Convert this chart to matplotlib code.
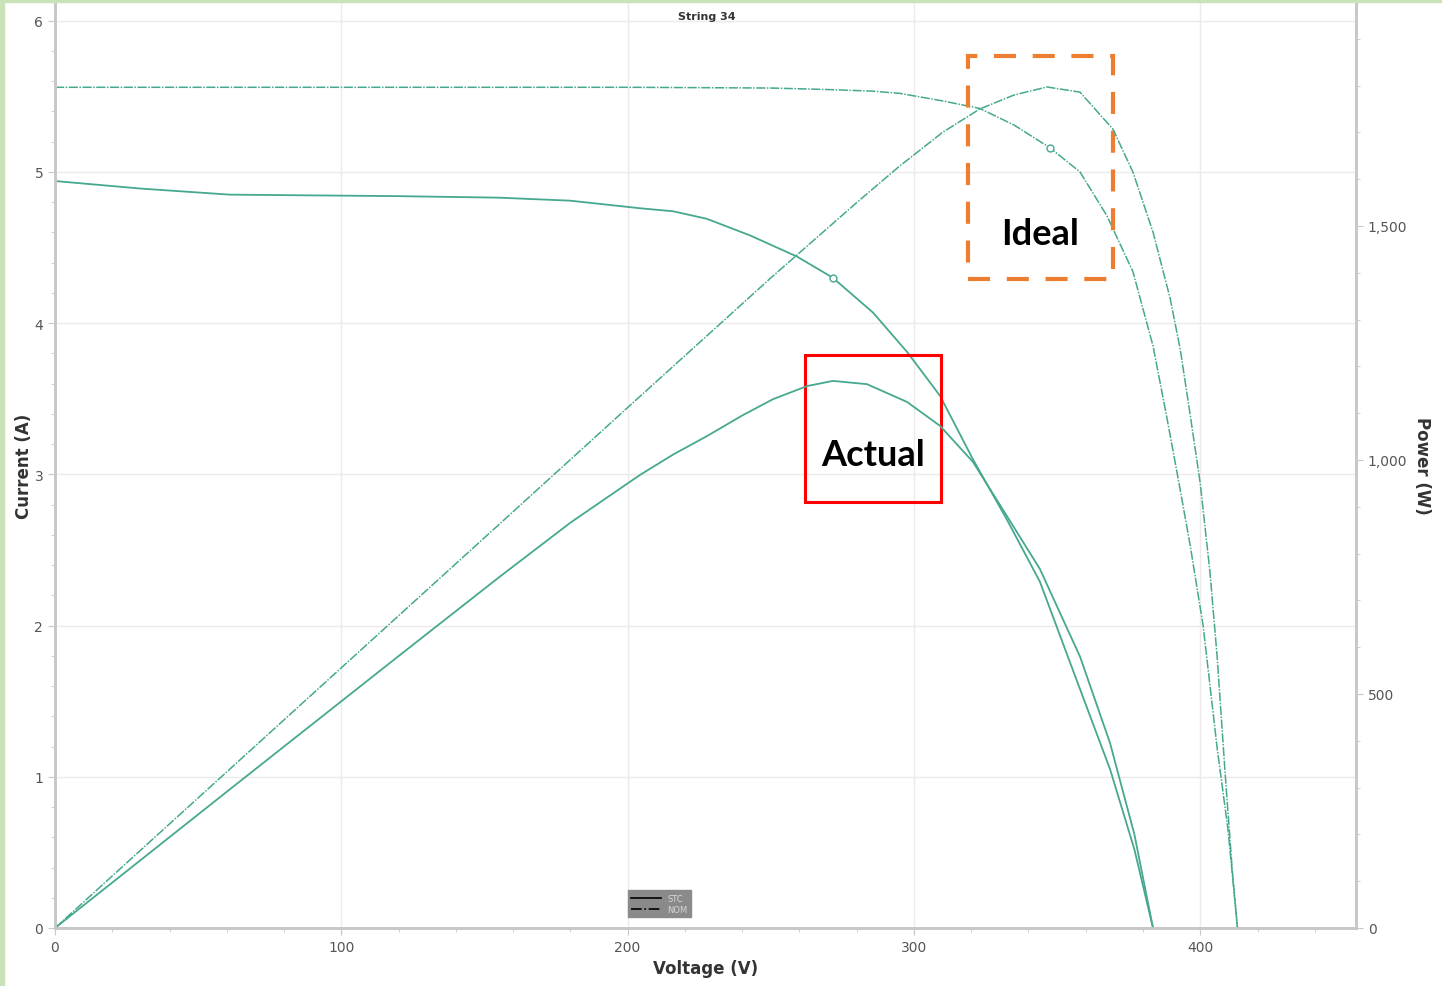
import matplotlib
matplotlib.use('Agg')
from matplotlib import pyplot as plt
from matplotlib.lines import Line2D
from matplotlib.patches import Rectangle
from matplotlib.ticker import MultipleLocator, FuncFormatter

# ideal (modelled) curve
ideal_v = [0, 100, 200, 250, 270, 285, 295, 310, 323, 335, 347.5, 358, 367.4, 376.5, 383.5,
           388.3, 392.5, 396.4, 401, 405.9, 409.7, 413]
ideal_i = [5.56, 5.56, 5.56, 5.555, 5.545, 5.535, 5.52, 5.47, 5.42, 5.31, 5.16, 5.00, 4.71, 4.34, 3.85,
           3.38, 2.95, 2.54, 2.00, 1.19, 0.65, 0.0]
ideal_pv = [0, 100, 200, 250, 280, 295, 310, 323, 335, 346.5, 358, 369.5, 376.5, 383.5, 389.5,
            393, 396.4, 400, 403.4, 405.9, 408.7, 411.1, 413]
ideal_p = [0, 556, 1112, 1389, 1550, 1628, 1700, 1750, 1780, 1797, 1786, 1707, 1615, 1487, 1345,
           1237, 1100, 950, 760, 580, 330, 130, 0]

# measured curve
actual_v = [0, 30, 61, 120, 155, 180, 204.3, 215.9, 227.7, 242.8, 259.2, 271.7, 285.7, 297.6,
            309.1, 320.6, 332.5, 344, 358, 368.5, 377, 383.5]
actual_i = [4.94, 4.89, 4.85, 4.84, 4.83, 4.81, 4.76, 4.74, 4.69, 4.58, 4.44, 4.30, 4.07, 3.81,
            3.52, 3.10, 2.70, 2.29, 1.58, 1.05, 0.52, 0.0]
actual_pv = [0, 61, 120, 155, 180, 204.3, 216, 227.7, 240, 250.8, 262.7, 271.7, 283.6, 297.6,
             309.1, 320.6, 332.5, 344, 358, 368.5, 377, 383.5]
actual_p = [0, 296, 581, 749, 866, 968, 1012, 1051, 1095, 1130, 1158, 1169, 1162, 1124,
            1073, 996, 880, 767, 580, 395, 200, 0]

mpp_ideal = (347.5, 5.16)
mpp_actual = (271.7, 4.30)

col = '#45a88f'
W, H = 1442, 987
fig = plt.figure(figsize=(W / 100, H / 100), dpi=100)
ax = fig.add_axes([55 / W, (H - 929) / H, (1356 - 55) / W, (929 - 3) / H])
ax2 = ax.twinx()

ax.set_xlim(0, 454.4)
ax.set_ylim(0, 6.124)
ax2.set_ylim(0, 1978.6)

dash = (0, (6, 1, 1, 1))
ax.plot(ideal_v, ideal_i, color=col, lw=1.1, ls=dash)
ax2.plot(ideal_pv, ideal_p, color=col, lw=1.1, ls=dash)
ax.plot(actual_v, actual_i, color=col, lw=1.3)
ax2.plot(actual_pv, actual_p, color=col, lw=1.3)
ax.plot(*mpp_ideal, marker='o', ms=5, mfc='white', mec=col, mew=1, zorder=4)
ax.plot(*mpp_actual, marker='o', ms=5, mfc='white', mec=col, mew=1, zorder=4)

ax.xaxis.set_major_locator(MultipleLocator(100))
ax.xaxis.set_minor_locator(MultipleLocator(20))
ax.yaxis.set_major_locator(MultipleLocator(1))
ax.yaxis.set_minor_locator(MultipleLocator(0.2))
ax2.yaxis.set_major_locator(MultipleLocator(500))
ax2.yaxis.set_minor_locator(MultipleLocator(100))
ax2.yaxis.set_major_formatter(FuncFormatter(lambda v, p: f'{int(v):,}'))

ax.grid(True, which='major', color='#eeeaea', lw=1)
ax.set_axisbelow(True)

for a in (ax, ax2):
    for s in a.spines.values():
        s.set_color('#c8c8c8')
        s.set_linewidth(2)
    a.spines['top'].set_visible(False)
    a.tick_params(which='both', colors='#c8c8c8', labelcolor='#555555', labelsize=10)
    a.tick_params(which='major', length=5)
    a.tick_params(which='minor', length=3)

ax.set_xlabel('Voltage (V)', fontsize=12, fontweight='bold', color='#333333', labelpad=4)
ax.set_ylabel('Current (A)', fontsize=12, fontweight='bold', color='#333333', labelpad=1)
ax2.set_ylabel('Power (W)', fontsize=12, fontweight='bold', color='#333333', rotation=-90, labelpad=17)
ax.text(0.501, 0.985, 'String 34', transform=ax.transAxes, ha='center', va='center',
        fontsize=8, fontweight='bold', color='#333333')

# legend
handles = [Line2D([], [], color='black', lw=1.2), Line2D([], [], color='black', lw=1.2, ls='-.')]
leg = ax.legend(handles, ['STC', 'NOM'], loc='lower left', bbox_to_anchor=(0.437, 0.007),
                fontsize=6, frameon=True, fancybox=False, facecolor='#8a8a8a', edgecolor='#8a8a8a',
                framealpha=1, handlelength=3.5, borderpad=0.45, labelspacing=0.25, handletextpad=0.8)
for t in leg.get_texts():
    t.set_color('#d8d8d8')

# annotation boxes
ax.add_patch(Rectangle((318.9, 4.29), 50.6, 1.48, fill=False, ec='#ed7d31', lw=3,
                       ls=(0, (5.3, 4)), zorder=5, clip_on=False))
ax.text(344.2, 4.59, 'Ideal', ha='center', va='center', fontsize=26, fontweight='bold',
        family='Lato', color='black')
ax.add_patch(Rectangle((261.9, 2.82), 47.5, 0.97, fill=False, ec='#ff0000', lw=2.2, zorder=5))
ax.text(285.6, 3.13, 'Actual', ha='center', va='center', fontsize=26, fontweight='bold',
        family='Lato', color='black')

# light green frame of the screenshot
fig.patches.append(Rectangle((0, 0), 4 / W, 1, transform=fig.transFigure, color='#c9e2b8', zorder=0))
fig.patches.append(Rectangle((0, 1 - 3 / H), 1, 3 / H, transform=fig.transFigure, color='#c9e2b8', zorder=0))

fig.savefig('out.png', dpi=100)
